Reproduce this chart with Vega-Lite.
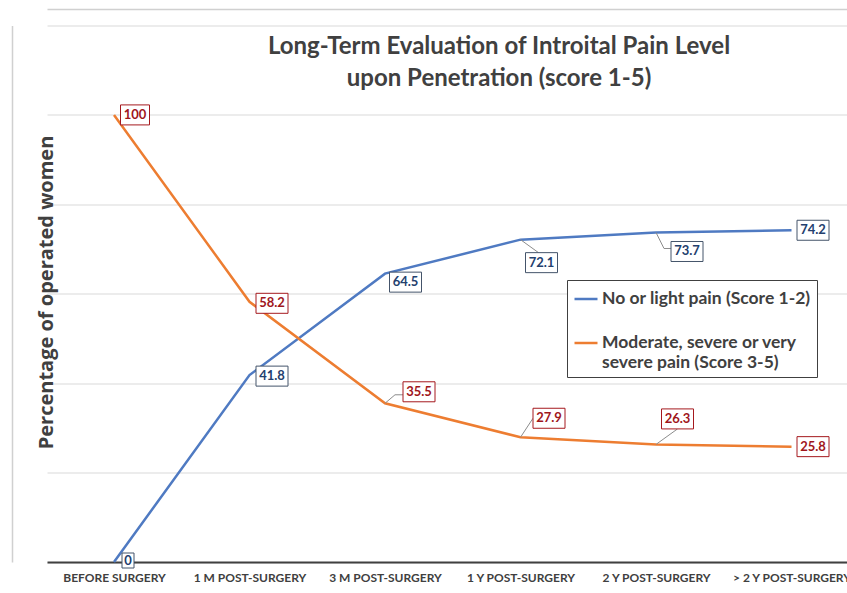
{
  "$schema": "https://vega.github.io/schema/vega-lite/v6.json",
  "autosize": {"type": "none"},
  "width": 800,
  "height": 536.5,
  "padding": {"left": 47, "top": 25.5, "right": 0, "bottom": 31},
  "background": "white",
  "config": {"view": {"stroke": null}, "font": "Lato"},
  "title": {
    "text": ["Long-Term Evaluation of Introital Pain Level", "upon Penetration (score 1-5)"],
    "font": "Lato", "fontSize": 24, "fontWeight": "bold", "color": "#404040",
    "anchor": "middle", "frame": "group", "offset": 0, "dy": 82, "dx": 52, "lineHeight": 32
  },
  "data": {
    "values": [
      {"time": "BEFORE SURGERY", "series": "No or light pain (Score 1-2)", "value": 0},
      {"time": "1 M POST-SURGERY", "series": "No or light pain (Score 1-2)", "value": 41.8},
      {"time": "3 M POST-SURGERY", "series": "No or light pain (Score 1-2)", "value": 64.5},
      {"time": "1 Y POST-SURGERY", "series": "No or light pain (Score 1-2)", "value": 72.1},
      {"time": "2 Y POST-SURGERY", "series": "No or light pain (Score 1-2)", "value": 73.7},
      {"time": "> 2 Y POST-SURGERY", "series": "No or light pain (Score 1-2)", "value": 74.2},
      {"time": "BEFORE SURGERY", "series": "Moderate, severe or very severe  pain (Score 3-5)", "value": 100},
      {"time": "1 M POST-SURGERY", "series": "Moderate, severe or very severe  pain (Score 3-5)", "value": 58.2},
      {"time": "3 M POST-SURGERY", "series": "Moderate, severe or very severe  pain (Score 3-5)", "value": 35.5},
      {"time": "1 Y POST-SURGERY", "series": "Moderate, severe or very severe  pain (Score 3-5)", "value": 27.9},
      {"time": "2 Y POST-SURGERY", "series": "Moderate, severe or very severe  pain (Score 3-5)", "value": 26.3},
      {"time": "> 2 Y POST-SURGERY", "series": "Moderate, severe or very severe  pain (Score 3-5)", "value": 25.8}
    ]
  },
  "layer": [
    {
      "mark": {"type": "line", "strokeWidth": 2.5},
      "encoding": {
        "x": {
          "field": "time", "type": "nominal", "sort": null,
          "scale": {"type": "point", "padding": 0.452, "align": 0.547,
            "domain": ["BEFORE SURGERY", "1 M POST-SURGERY", "3 M POST-SURGERY", "1 Y POST-SURGERY", "2 Y POST-SURGERY", "> 2 Y POST-SURGERY"]},
          "axis": {
            "title": null, "ticks": false, "labelPadding": 10, "labelFont": "Lato", "labelFontSize": 12,
            "labelFontWeight": "bold", "labelColor": "#404040", "labelAngle": 0, "labelOverlap": false,
            "labelBound": false, "labelFlush": false, "labelLimit": 0, "domainColor": "#404040",
            "domainWidth": 2, "grid": false
          }
        },
        "y": {
          "field": "value", "type": "quantitative",
          "scale": {"domain": [0, 120], "nice": false},
          "axis": {
            "title": "Percentage of operated women", "values": [0, 20, 40, 60, 80, 100, 120],
            "labels": false, "ticks": false, "domain": false, "grid": true, "gridColor": "#d9d9d9",
            "titleFont": "Open Sans", "titleFontSize": 20, "titleFontWeight": "bold", "titleColor": "#404040",
            "titleX": -1, "titleY": 266.5, "titleAngle": -90, "titleAlign": "center", "titleBaseline": "middle"
          }
        },
        "color": {
          "field": "series", "type": "nominal",
          "scale": {"domain": ["No or light pain (Score 1-2)", "Moderate, severe or very severe  pain (Score 3-5)"], "range": ["#4f7ac2", "#ed7d31"]},
          "legend": {
            "orient": "none", "legendX": 520, "legendY": 254.5, "title": null,
            "strokeColor": "#404040", "fillColor": "white", "padding": 6,
            "symbolType": "stroke", "symbolSize": 529, "symbolStrokeWidth": 2.5,
            "labelFont": "Lato", "labelFontWeight": "bold", "labelFontSize": 17.5, "labelColor": "#404040",
            "labelLimit": 0, "rowPadding": 22, "labelOffset": 3,
            "labelExpr": "datum.label[0] == 'M' ? ['Moderate, severe or very', 'severe  pain (Score 3-5)'] : datum.label"
          }
        }
      }
    },
    {
      "transform": [{"filter": "indexof([72.1, 73.7, 35.5, 27.9, 26.3], datum.value) >= 0"}],
      "mark": {
        "type": "point", "filled": false, "fill": null, "stroke": "#8c8c8c", "strokeWidth": 1, "size": 4, "opacity": 1,
        "shape": {"expr": "({'72.1':'M0,0L18,13','73.7':'M0,0L8,16L15,16','35.5':'M0,0L10,-8.5L18,-8.5','27.9':'M0,0L12.5,-19','26.3':'M0,0L21.5,-15.5'})[datum.value]"}
      },
      "encoding": {
        "x": {"field": "time", "type": "nominal", "sort": null,
          "axis": {"orient": "top", "offset": 16.5, "title": null, "labels": false, "ticks": false, "grid": false, "domainColor": "#d0d0d0", "domainWidth": 1.5}},
        "y": {"field": "value", "type": "quantitative",
          "axis": {"orient": "left", "offset": 35, "title": null, "labels": false, "ticks": false, "grid": false, "domainColor": "#d0d0d0", "domainWidth": 1.5}}
      }
    },
    {
      "mark": {
        "type": "point", "filled": true, "fill": "white", "strokeWidth": 1, "size": 4, "opacity": 1,
        "stroke": {"expr": "datum.series[0] == 'N' ? '#44546a' : '#a5191e'"},
        "shape": {"expr": "'M'+(({'0':14,'41.8':22.5,'64.5':20.5,'72.1':21,'73.7':31,'74.2':21.5,'100':21,'58.2':22.5,'35.5':34,'27.9':28.5,'26.3':21.5,'25.8':21.5})[datum.value]-(datum.value==0?6:datum.value==100?14.5:16))+','+(({'0':-1.5,'41.8':1,'64.5':8.5,'72.1':23,'73.7':19,'74.2':0,'100':0,'58.2':1.5,'35.5':-11.5,'27.9':-19,'26.3':-25.5,'25.8':0})[datum.value]-(datum.value==0?7.5:10))+'H'+(({'0':14,'41.8':22.5,'64.5':20.5,'72.1':21,'73.7':31,'74.2':21.5,'100':21,'58.2':22.5,'35.5':34,'27.9':28.5,'26.3':21.5,'25.8':21.5})[datum.value]+(datum.value==0?6:datum.value==100?14.5:16))+'V'+(({'0':-1.5,'41.8':1,'64.5':8.5,'72.1':23,'73.7':19,'74.2':0,'100':0,'58.2':1.5,'35.5':-11.5,'27.9':-19,'26.3':-25.5,'25.8':0})[datum.value]+(datum.value==0?7.5:10))+'H'+(({'0':14,'41.8':22.5,'64.5':20.5,'72.1':21,'73.7':31,'74.2':21.5,'100':21,'58.2':22.5,'35.5':34,'27.9':28.5,'26.3':21.5,'25.8':21.5})[datum.value]-(datum.value==0?6:datum.value==100?14.5:16))+'Z'"}
      },
      "encoding": {
        "x": {"field": "time", "type": "nominal", "sort": null, "axis": null},
        "y": {"field": "value", "type": "quantitative", "axis": null}
      }
    },
    {
      "mark": {
        "type": "text", "font": "Lato", "fontSize": 13, "fontWeight": "bold", "align": "center", "baseline": "middle",
        "fill": {"expr": "datum.series[0] == 'N' ? '#23406e' : '#a0161c'"},
        "dx": {"expr": "({'0':14,'41.8':22.5,'64.5':20.5,'72.1':21,'73.7':31,'74.2':21.5,'100':21,'58.2':22.5,'35.5':34,'27.9':28.5,'26.3':21.5,'25.8':21.5})[datum.value]"},
        "dy": {"expr": "({'0':-1.5,'41.8':1,'64.5':8.5,'72.1':23,'73.7':19,'74.2':0,'100':0,'58.2':1.5,'35.5':-11.5,'27.9':-19,'26.3':-25.5,'25.8':0})[datum.value]"}
      },
      "encoding": {
        "x": {"field": "time", "type": "nominal", "sort": null, "axis": null},
        "y": {"field": "value", "type": "quantitative", "axis": null},
        "text": {"field": "value", "type": "quantitative", "format": ".1~f"}
      }
    }
  ],
  "resolve": {"axis": {"x": "independent", "y": "independent"}}
}
